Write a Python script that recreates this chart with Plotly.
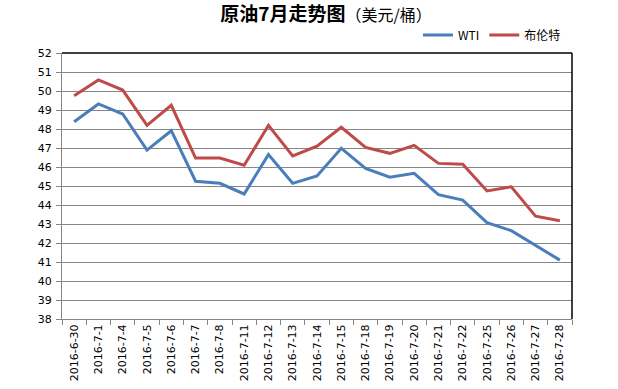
import plotly.graph_objects as go

dates = ["2016-6-30", "2016-7-1", "2016-7-4", "2016-7-5", "2016-7-6", "2016-7-7",
         "2016-7-8", "2016-7-11", "2016-7-12", "2016-7-13", "2016-7-14", "2016-7-15",
         "2016-7-18", "2016-7-19", "2016-7-20", "2016-7-21", "2016-7-22", "2016-7-25",
         "2016-7-26", "2016-7-27", "2016-7-28"]
wti = [48.38, 49.32, 48.79, 46.89, 47.91, 45.25, 45.14, 44.58, 46.65, 45.14, 45.53,
       46.98, 45.93, 45.46, 45.67, 44.54, 44.26, 43.07, 42.65, 41.89, 41.10]
brent = [49.75, 50.58, 50.05, 48.19, 49.25, 46.47, 46.47, 46.09, 48.19, 46.58, 47.10,
         48.09, 47.03, 46.72, 47.14, 46.19, 46.14, 44.74, 44.96, 43.41, 43.17]

W, H = 618, 389
L, R, T, B = 62, 572, 53, 319

fig = go.Figure()
fig.add_trace(go.Scatter(x=dates, y=wti, name="WTI", mode="lines",
                         line=dict(color="#4A7EBB", width=3)))
fig.add_trace(go.Scatter(x=dates, y=brent, name="布伦特", mode="lines",
                         line=dict(color="#BE4B48", width=3)))

fig.update_layout(
    width=W, height=H,
    margin=dict(l=L, r=W - R, t=T, b=H - B, pad=0, autoexpand=False),
    paper_bgcolor="white", plot_bgcolor="white",
    font=dict(family="DejaVu Sans, Verdana, sans-serif", size=11, color="#000000"),
    title=dict(
        text="<b>原油7月走势图</b><span style='font-size:16px'>（美元/桶）</span>",
        font=dict(family="Noto Sans CJK SC", size=19, color="#000000"),
        x=326 / W, xanchor="center", xref="container",
        y=1 - 14 / H, yanchor="middle", yref="container",
        automargin=False,
    ),
    showlegend=True,
    legend=dict(
        orientation="h", xref="container", yref="container",
        x=418 / W, xanchor="left", y=1 - 35 / H, yanchor="middle",
        font=dict(family="Noto Sans CJK SC, DejaVu Sans", size=12, color="#000000"),
        itemwidth=30, tracegroupgap=0, bgcolor="rgba(0,0,0,0)",
    ),
    xaxis=dict(
        type="category", showgrid=False, showline=True, linecolor="#868686", linewidth=1,
        ticks="outside", tickson="boundaries", ticklen=5, tickcolor="#868686",
        tickangle=-90, tickfont=dict(size=11, color="#000000"), mirror=False,
        range=[-0.5, len(dates) - 0.5], automargin=False,
    ),
    yaxis=dict(
        range=[38, 52], dtick=1, showgrid=True, gridcolor="#868686", gridwidth=1,
        showline=True, linecolor="#868686", linewidth=1, ticks="outside", ticklen=5,
        tickcolor="#868686", tickfont=dict(size=11, color="#000000"), zeroline=False,
        ticklabelstandoff=2, automargin=False,
    ),
)

# black plot-area border on top and right
fig.add_shape(type="line", xref="paper", yref="paper", x0=0, x1=1, y0=1, y1=1,
              line=dict(color="black", width=1.5))
fig.add_shape(type="line", xref="paper", yref="paper", x0=1, x1=1, y0=0, y1=1,
              line=dict(color="black", width=1.5))

fig.write_html("out.html", config={"displayModeBar": False},
               post_script="document.body.style.margin='0';")
